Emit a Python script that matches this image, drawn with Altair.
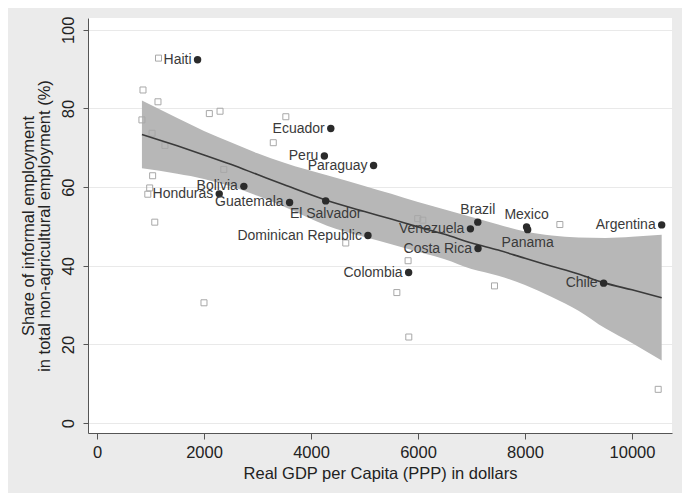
import altair as alt
import pandas as pd

# ---- Data ----
countries = ["Haiti", "Ecuador", "Peru", "Paraguay", "Bolivia", "Honduras",
             "Guatemala", "El Salvador", "Dominican Republic", "Brazil",
             "Venezuela", "Mexico", "Panama", "Costa Rica", "Colombia",
             "Chile", "Argentina"]
gdp_labeled = [1880, 4370, 4250, 5170, 2745, 2285, 3600, 4275, 5065, 7118,
               6980, 8030, 8050, 7122, 5825, 9470, 10555]
informal_labeled = [92.4, 74.9, 67.9, 65.5, 60.2, 58.3, 56.1, 56.5, 47.7, 51.1,
                    49.4, 49.9, 49.2, 44.4, 38.3, 35.6, 50.4]

other_gdp = [1150, 860, 1140, 840, 1030, 1270, 1040, 985, 950, 1080,
             2100, 2300, 2370, 3530, 3295, 2000, 4650, 5995, 6090, 5815,
             5605, 5828, 7430, 8652, 10490]
other_informal = [92.8, 84.7, 81.7, 77.1, 73.7, 70.6, 62.9, 59.8, 58.2, 51.1,
                  78.7, 79.3, 64.5, 77.9, 71.3, 30.6, 45.8, 52.0, 51.6, 41.3,
                  33.2, 21.9, 34.9, 50.5, 8.6]

fit_x = [840, 1500, 2000, 2500, 3000, 3500, 4300, 5000, 5500, 6000, 6500, 7000,
         7500, 8000, 8500, 9000, 9500, 10000, 10555]
fit_y = [73.4, 70.5, 68.2, 65.8, 63.2, 60.6, 56.6, 53.8, 51.9, 49.9, 48.0, 45.8,
         44.0, 41.9, 39.9, 37.9, 35.6, 33.9, 31.9]
band_upper = [82.0, 77.6, 74.3, 71.4, 68.6, 66.2, 63.0, 60.3, 58.3, 56.2, 54.3, 52.4,
              50.5, 48.7, 47.7, 47.2, 47.1, 47.4, 47.9]
band_lower = [64.8, 63.4, 62.1, 60.2, 57.8, 55.0, 50.2, 47.3, 45.5, 43.6, 41.7, 39.2,
              37.5, 35.1, 32.1, 28.6, 24.1, 20.4, 15.9]

x_ticks = [0, 2000, 4000, 6000, 8000, 10000]
y_ticks = [0, 20, 40, 60, 80, 100]

labeled = pd.DataFrame({"country": countries, "gdp": gdp_labeled,
                        "informal": informal_labeled})
others = pd.DataFrame({"gdp": other_gdp, "informal": other_informal})
fit = pd.DataFrame({"gdp": fit_x, "fit": fit_y, "lo": band_lower, "hi": band_upper})

ABOVE = ["Brazil", "Mexico"]
BELOW = ["El Salvador", "Panama"]
LEFT = [c for c in countries if c not in ABOVE + BELOW]

FONT = "Liberation Sans"

x_scale = alt.Scale(domain=[-168, 10748], nice=False, zero=False)
y_scale = alt.Scale(domain=[-2.5, 103], nice=False, zero=False)

x_axis = alt.Axis(values=x_ticks, title="Real GDP per Capita (PPP) in dollars",
                  grid=False, tickSize=6, labelPadding=5, titlePadding=5,
                  format="d", labelFlush=False)
y_axis = alt.Axis(values=y_ticks,
                  title=["Share of informal employment",
                         "in total non-agricultural employment (%)"],
                  grid=True, gridColor="#e9e9e9", tickSize=5, labelPadding=7,
                  labelAngle=270, labelAlign="center", labelBaseline="bottom",
                  titlePadding=8, titleLineHeight=15.5, format="d",
                  labelFlush=False)


def X(field="gdp"):
    return alt.X(f"{field}:Q", scale=x_scale, axis=x_axis)


def Y(field):
    return alt.Y(f"{field}:Q", scale=y_scale, axis=y_axis)


band = alt.Chart(fit).mark_area(color="#b7b7b7", opacity=1, interpolate="monotone").encode(
    x=X(), y=Y("lo"), y2="hi:Q")

squares = alt.Chart(others).mark_point(
    shape="square", filled=False, color="#a8a8a8", size=36, strokeWidth=1,
    opacity=1).encode(x=X(), y=Y("informal"))

line = alt.Chart(fit).mark_line(color="#3a3a3a", strokeWidth=1.6,
                                interpolate="monotone").encode(
    x=X(), y=Y("fit"))

dots = alt.Chart(labeled).mark_circle(color="#2b2b2b", size=55, opacity=1).encode(
    x=X(), y=Y("informal"))

text_common = dict(font=FONT, fontSize=14, color="#3a3a3a")

lab_left = alt.Chart(labeled).transform_filter(
    alt.FieldOneOfPredicate(field="country", oneOf=LEFT)
).mark_text(align="right", baseline="middle", dx=-6, **text_common).encode(
    x=X(), y=Y("informal"), text="country:N")

lab_above = alt.Chart(labeled).transform_filter(
    alt.FieldOneOfPredicate(field="country", oneOf=ABOVE)
).mark_text(align="center", baseline="bottom", dy=-5, **text_common).encode(
    x=X(), y=Y("informal"), text="country:N")

lab_below = alt.Chart(labeled).transform_filter(
    alt.FieldOneOfPredicate(field="country", oneOf=BELOW)
).mark_text(align="center", baseline="top", dy=6, **text_common).encode(
    x=X(), y=Y("informal"), text="country:N")

chart = alt.layer(band, squares, line, dots, lab_left, lab_above, lab_below).properties(
    width=584, height=415,
    autosize=alt.AutoSizeParams(type="none"),
    padding={"left": 80, "top": 10, "right": 10, "bottom": 60},
    background="#ebebeb",
).configure_view(
    fill="white", strokeWidth=0
).configure_axis(
    domainColor="#555555", tickColor="#555555", labelColor="#222222",
    titleColor="#222222", labelFont=FONT, titleFont=FONT, labelFontSize=16.5,
    titleFontSize=16.5, titleFontWeight="normal"
)

chart.save("out.html", embed_options={"renderer": "svg", "actions": False})
